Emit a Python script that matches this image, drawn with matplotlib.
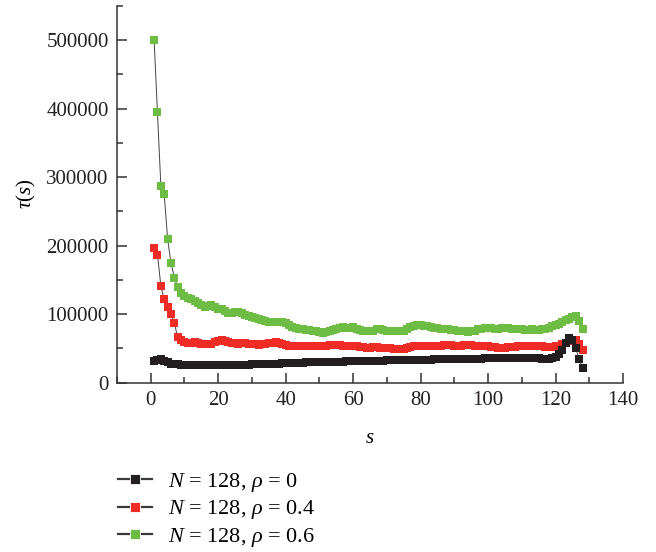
import matplotlib
matplotlib.use("Agg")
import matplotlib.pyplot as plt
from matplotlib.ticker import MultipleLocator
from matplotlib.lines import Line2D

s_values = list(range(1, 129))

tau_rho0 = [
    32000, 33000, 34000, 32000, 30000, 28000, 27000, 27000, 26500, 26000,
    26000, 26000, 25800, 25800, 25800, 25800, 25800, 25800, 25800, 25800,
    25800, 25900, 26000, 26000, 26100, 26200, 26300, 26400, 26500, 26600,
    26700, 26800, 27000, 27200, 27400, 27600, 27800, 28000, 28200, 28400,
    28600, 28800, 29000, 29200, 29400, 29600, 29800, 30000, 30100, 30200,
    30300, 30400, 30500, 30600, 30700, 30800, 30900, 31000, 31200, 31400,
    31500, 31600, 31700, 31800, 31900, 32000, 32100, 32200, 32300, 32400,
    32500, 32600, 32700, 32800, 33000, 33100, 33200, 33300, 33400, 33500,
    33600, 33700, 33800, 33900, 34000, 34100, 34200, 34300, 34400, 34500,
    34600, 34700, 34800, 34900, 35000, 35100, 35200, 35300, 35400, 35500,
    35600, 35700, 35800, 35900, 36000, 36100, 36200, 36300, 36400, 36500,
    36500, 36400, 36200, 36000, 35500, 35000, 34000, 34500, 35500, 38000,
    42000, 48000, 58000, 65000, 63000, 50000, 35000, 21000,
]

tau_rho04 = [
    196000, 187000, 141000, 122000, 111000, 100000, 87000, 66000, 62000, 59000,
    58000, 58000, 59000, 58000, 57000, 57000, 56000, 57000, 59000, 61000,
    62000, 61000, 59000, 58000, 58000, 57000, 58000, 58000, 57000, 57000,
    56000, 55000, 56000, 57000, 58000, 58000, 59000, 58000, 57000, 55000,
    53000, 53000, 53000, 54000, 54000, 54000, 54000, 54000, 53000, 53000,
    54000, 54000, 55000, 55000, 55000, 55000, 54000, 54000, 53000, 53000,
    53000, 52000, 52000, 51000, 51000, 52000, 52000, 51000, 51000, 50000,
    50000, 49000, 49000, 49000, 49000, 50000, 52000, 53000, 54000, 54000,
    54000, 53000, 53000, 53000, 54000, 54000, 55000, 55000, 55000, 54000,
    54000, 54000, 55000, 55000, 55000, 54000, 54000, 53000, 53000, 53000,
    52000, 52000, 51000, 51000, 51000, 52000, 52000, 52000, 53000, 53000,
    53000, 54000, 54000, 53000, 53000, 53000, 52000, 52000, 52000, 53000,
    54000, 56000, 58000, 61000, 63000, 62000, 56000, 48000,
]

tau_rho06 = [
    500000, 395000, 287000, 275000, 210000, 175000, 153000, 139000, 131000, 127000,
    124000, 122000, 119000, 116000, 113000, 111000, 112000, 114000, 111000, 108000,
    107000, 104000, 102000, 102000, 103000, 103000, 101000, 99000, 98000, 96000,
    95000, 93000, 91000, 90000, 89000, 89000, 88000, 89000, 89000, 87000,
    84000, 81000, 80000, 79000, 78000, 77000, 77000, 76000, 75000, 74000,
    73000, 74000, 75000, 77000, 79000, 80000, 81000, 80000, 80000, 81000,
    79000, 77000, 76000, 75000, 75000, 76000, 78000, 79000, 77000, 76000,
    76000, 76000, 75000, 75000, 76000, 78000, 81000, 83000, 84000, 84000,
    83000, 82000, 81000, 80000, 80000, 79000, 78000, 78000, 77000, 77000,
    76000, 75000, 75000, 74000, 75000, 76000, 78000, 79000, 80000, 80000,
    80000, 79000, 79000, 80000, 80000, 80000, 79000, 79000, 78000, 78000,
    77000, 77000, 78000, 77000, 77000, 78000, 79000, 80000, 82000, 84000,
    86000, 89000, 91000, 93000, 96000, 97000, 90000, 79000,
]

series_labels = [
    r"$N$ = 128, $\rho$ = 0",
    r"$N$ = 128, $\rho$ = 0.4",
    r"$N$ = 128, $\rho$ = 0.6",
]
series_colors = ["#231f20", "#ee2b25", "#6dbd45"]

plt.rcParams["font.family"] = ["Liberation Serif", "DejaVu Serif"]
plt.rcParams["mathtext.fontset"] = "custom"
plt.rcParams["mathtext.rm"] = "Liberation Serif"
plt.rcParams["mathtext.it"] = "Liberation Serif:italic"

fig = plt.figure(figsize=(6.56, 5.52), dpi=100)
ax = fig.add_axes([117 / 656, 1 - 382.7 / 552, (623 - 117) / 656, (382.7 - 5.7) / 552])

zorders = [4, 2, 3]
handles = []
for ys, lab, col, z in zip([tau_rho0, tau_rho04, tau_rho06], series_labels,
                           series_colors, zorders):
    ax.plot(s_values, ys, color="#444444", linewidth=0.7, marker="s",
            markersize=5.2, markerfacecolor=col, markeredgecolor=col,
            markeredgewidth=0, zorder=z)
    handles.append(Line2D([], [], color="#3a3a3a", linewidth=1.6, marker="s",
                          markersize=7, markerfacecolor=col,
                          markeredgecolor="white", markeredgewidth=0.6))

ax.set_xlim(-10, 140)
ax.set_ylim(0, 550000)
ax.xaxis.set_major_locator(MultipleLocator(20))
ax.xaxis.set_minor_locator(MultipleLocator(10))
ax.yaxis.set_major_locator(MultipleLocator(100000))
ax.yaxis.set_minor_locator(MultipleLocator(50000))

for side in ["top", "right"]:
    ax.spines[side].set_visible(False)
for side in ["left", "bottom"]:
    ax.spines[side].set_linewidth(1.1)
    ax.spines[side].set_color("#333333")

ax.tick_params(which="both", direction="in", colors="#333333", labelcolor="#231f20",
               labelsize=15)
ax.tick_params(which="major", length=7, width=1.1)
ax.tick_params(which="minor", length=4, width=1.1)
ax.tick_params(axis="y", pad=6)
ax.tick_params(axis="x", pad=6)

ax.set_xlabel(r"$s$", fontsize=15, labelpad=14)
ax.set_ylabel(r"$\tau(s)$", fontsize=15, labelpad=6)

fig.legend(handles=handles, labels=series_labels, loc="upper left",
           bbox_to_anchor=(118 / 656, 1 - 471 / 552), frameon=False, fontsize=16,
           handlelength=1.55, handletextpad=0.7, labelspacing=0.2, borderpad=0,
           borderaxespad=0)

fig.savefig("out.png", dpi=100)
